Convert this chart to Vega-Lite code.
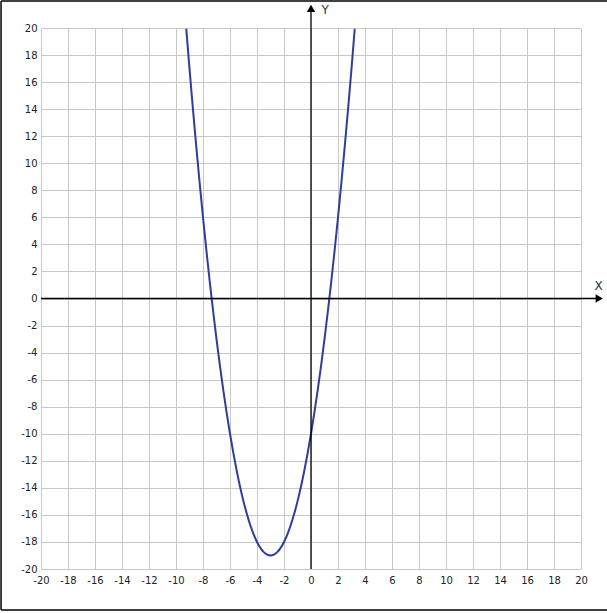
{
  "$schema": "https://vega.github.io/schema/vega-lite/v6.json",
  "width": 540,
  "height": 541,
  "autosize": {"type": "none"},
  "padding": {"left": 41, "top": 28, "right": 26, "bottom": 44},
  "background": "white",
  "config": {"view": {"stroke": null}},
  "datasets": {
    "curve": [
      {"x": -9.24, "y": 19.94}, {"x": -9, "y": 17}, {"x": -8.75, "y": 14.0625}, {"x": -8.5, "y": 11.25},
      {"x": -8.25, "y": 8.5625}, {"x": -8, "y": 6}, {"x": -7.75, "y": 3.5625}, {"x": -7.5, "y": 1.25},
      {"x": -7.25, "y": -0.9375}, {"x": -7, "y": -3}, {"x": -6.75, "y": -4.9375}, {"x": -6.5, "y": -6.75},
      {"x": -6.25, "y": -8.4375}, {"x": -6, "y": -10}, {"x": -5.75, "y": -11.4375}, {"x": -5.5, "y": -12.75},
      {"x": -5.25, "y": -13.9375}, {"x": -5, "y": -15}, {"x": -4.75, "y": -15.9375}, {"x": -4.5, "y": -16.75},
      {"x": -4.25, "y": -17.4375}, {"x": -4, "y": -18}, {"x": -3.75, "y": -18.4375}, {"x": -3.5, "y": -18.75},
      {"x": -3.25, "y": -18.9375}, {"x": -3, "y": -19}, {"x": -2.75, "y": -18.9375}, {"x": -2.5, "y": -18.75},
      {"x": -2.25, "y": -18.4375}, {"x": -2, "y": -18}, {"x": -1.75, "y": -17.4375}, {"x": -1.5, "y": -16.75},
      {"x": -1.25, "y": -15.9375}, {"x": -1, "y": -15}, {"x": -0.75, "y": -13.9375}, {"x": -0.5, "y": -12.75},
      {"x": -0.25, "y": -11.4375}, {"x": 0, "y": -10}, {"x": 0.25, "y": -8.4375}, {"x": 0.5, "y": -6.75},
      {"x": 0.75, "y": -4.9375}, {"x": 1, "y": -3}, {"x": 1.25, "y": -0.9375}, {"x": 1.5, "y": 1.25},
      {"x": 1.75, "y": 3.5625}, {"x": 2, "y": 6}, {"x": 2.25, "y": 8.5625}, {"x": 2.5, "y": 11.25},
      {"x": 2.75, "y": 14.0625}, {"x": 3, "y": 17}, {"x": 3.24, "y": 19.94}
    ],
    "axes": [
      {"x": -20, "x2": 21.3, "y": 0, "y2": 0},
      {"x": 0, "x2": 0, "y": -20, "y2": 21.4}
    ],
    "border": [
      {"x": -22.96, "x2": 21.93, "y": 22, "y2": 22},
      {"x": -22.96, "x2": 21.93, "y": -23.04, "y2": -23.04},
      {"x": -22.96, "x2": -22.96, "y": -23.04, "y2": 22}
    ],
    "arrows": [
      {"x": 21.35, "y": 0, "dir": "right"},
      {"x": 0, "y": 21.45, "dir": "up"}
    ],
    "names": [
      {"x": 21.3, "y": 0.95, "label": "X"},
      {"x": 1.05, "y": 21.3, "label": "Y"}
    ]
  },
  "encoding": {
    "x": {
      "field": "x", "type": "quantitative",
      "scale": {"domain": [-20, 20], "nice": false, "zero": false},
      "axis": {
        "values": [-20,-18,-16,-14,-12,-10,-8,-6,-4,-2,0,2,4,6,8,10,12,14,16,18,20],
        "title": null, "domain": false, "ticks": false,
        "grid": true, "gridColor": "#c8c8c8", "gridWidth": 1, "gridOpacity": 1,
        "labelExpr": "toString(datum.value)",
        "labelFont": "DejaVu Sans", "labelFontSize": 10, "labelColor": "#222",
        "labelPadding": 6, "labelFlush": false, "labelOverlap": false, "labelBound": false
      }
    },
    "y": {
      "field": "y", "type": "quantitative",
      "scale": {"domain": [-20, 20], "nice": false, "zero": false},
      "axis": {
        "values": [-20,-18,-16,-14,-12,-10,-8,-6,-4,-2,0,2,4,6,8,10,12,14,16,18,20],
        "title": null, "domain": false, "ticks": false,
        "grid": true, "gridColor": "#c8c8c8", "gridWidth": 1, "gridOpacity": 1,
        "labelExpr": "toString(datum.value)",
        "labelFont": "DejaVu Sans", "labelFontSize": 10, "labelColor": "#222",
        "labelPadding": 4, "labelFlush": false, "labelOverlap": false, "labelBound": false
      }
    }
  },
  "layer": [
    {
      "data": {"name": "curve"},
      "mark": {"type": "line", "color": "#2e3d9e", "strokeWidth": 2, "interpolate": "monotone", "clip": true}
    },
    {
      "data": {"name": "axes"},
      "mark": {"type": "rule", "color": "black", "strokeWidth": 1.3},
      "encoding": {
        "x2": {"field": "x2"},
        "y2": {"field": "y2"}
      }
    },
    {
      "data": {"name": "border"},
      "mark": {"type": "rule", "color": "black", "strokeWidth": 1.5},
      "encoding": {
        "x2": {"field": "x2"},
        "y2": {"field": "y2"}
      }
    },
    {
      "data": {"name": "arrows"},
      "mark": {"type": "point", "filled": true, "color": "black", "opacity": 1, "size": 70},
      "encoding": {
        "shape": {
          "field": "dir", "type": "nominal",
          "scale": {"domain": ["right", "up"], "range": ["triangle-right", "triangle-up"]},
          "legend": null
        }
      }
    },
    {
      "data": {"name": "names"},
      "mark": {"type": "text", "font": "DejaVu Sans", "fontSize": 12, "color": "#333", "align": "center", "baseline": "middle"},
      "encoding": {
        "text": {"field": "label"}
      }
    }
  ]
}
